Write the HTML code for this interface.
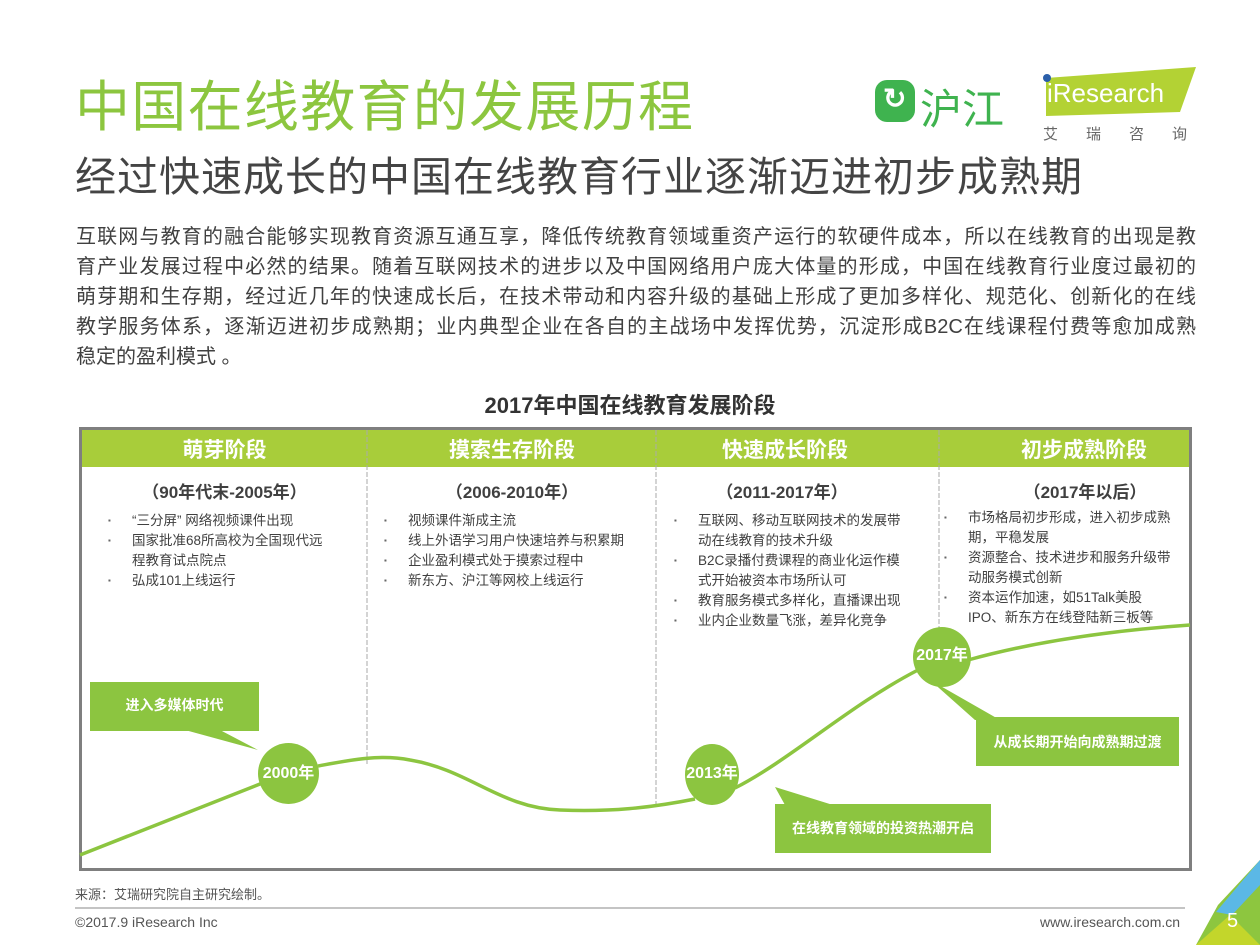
<!DOCTYPE html>
<html><head><meta charset="utf-8"><style>
body{margin:0;width:1260px;height:945px;position:relative;background:#fff;overflow:hidden;font-family:"Liberation Sans","Noto Sans CJK SC",sans-serif;}
.a{position:absolute;white-space:nowrap;}
.p{position:absolute;left:76px;width:1120px;font-size:20px;color:#404040;}
.p div{height:30px;line-height:30px;text-align:justify;text-align-last:justify;white-space:nowrap;}
.hd{position:absolute;top:433px;height:36px;line-height:36px;color:#fff;font-weight:bold;font-size:21px;text-align:center;}
.yr{position:absolute;top:478px;font-weight:bold;font-size:17px;color:#404040;text-align:center;}
ul{position:absolute;margin:0;padding:0;list-style:none;font-size:13.5px;color:#404040;line-height:20px;}
ul li{position:relative;padding-left:27px;}
ul li:before{content:"▪";position:absolute;left:3px;font-size:8px;color:#666;}
.c{position:absolute;color:#fff;font-weight:bold;font-size:14px;text-align:center;background:#8cc540;}
.ci{position:absolute;border-radius:50%;background:#8cc540;color:#fff;font-weight:bold;font-size:16px;text-align:center;}
</style></head><body>
<div class="a" style="left:75px;top:72px;font-size:55px;color:#8cc63f;letter-spacing:1.3px;line-height:70px;">中国在线教育的发展历程</div>
<div class="a" style="left:75px;top:150px;font-size:41px;color:#444;line-height:54px;letter-spacing:1px;">经过快速成长的中国在线教育行业逐渐迈进初步成熟期</div>
<div style="position:absolute;left:875px;top:80px;width:40px;height:42px;background:#3fb34f;border-radius:12px;"></div>
<div class="a" style="left:883px;top:82px;font-size:28px;color:#fff;font-weight:bold;">↻</div>
<div class="a" style="left:920px;top:76px;font-size:42px;color:#3fb34f;">沪江</div>
<svg class="a" style="left:1040px;top:64px" width="160" height="60"><polygon points="6,14 156,3 140,48 6,52" fill="#b3d234"/><circle cx="7" cy="14" r="4" fill="#2b5faa"/></svg>
<div class="a" style="left:1047px;top:78px;font-size:26px;color:#fff;">iResearch</div>
<div class="a" style="left:1043px;top:123px;font-size:15px;color:#666;letter-spacing:28px;">艾瑞咨询</div>
<div class="p" style="top:222px;">
<div>互联网与教育的融合能够实现教育资源互通互享，降低传统教育领域重资产运行的软硬件成本，所以在线教育的出现是教</div>
<div>育产业发展过程中必然的结果。随着互联网技术的进步以及中国网络用户庞大体量的形成，中国在线教育行业度过最初的</div>
<div>萌芽期和生存期，经过近几年的快速成长后，在技术带动和内容升级的基础上形成了更加多样化、规范化、创新化的在线</div>
<div>教学服务体系，逐渐迈进初步成熟期；业内典型企业在各自的主战场中发挥优势，沉淀形成B2C在线课程付费等愈加成熟</div>
<div style="text-align-last:left">稳定的盈利模式 。</div>
</div>
<div class="a" style="left:0;width:1260px;text-align:center;top:388px;font-size:22px;font-weight:bold;color:#333;">2017年中国在线教育发展阶段</div>
<svg class="a" style="left:0;top:0" width="1260" height="945">
<rect x="80.5" y="428.5" width="1110" height="441" fill="none" stroke="#7f7f7f" stroke-width="3"/>
<rect x="82" y="430" width="1107" height="37" fill="#a8cd3a"/>
<g stroke="#aaa" stroke-width="1" stroke-dasharray="5,2">
<line x1="367" y1="430" x2="367" y2="766"/><line x1="656" y1="430" x2="656" y2="805"/><line x1="939" y1="430" x2="939" y2="640"/></g>
<path d="M80,855 L265,782 M318,766 C350,760 380,754 410,760 C470,770 500,808 560,810 C610,812 650,808 695,799 M735,788 C790,760 850,705 918,670 M968,660 C1040,640 1120,630 1190,625" fill="none" stroke="#8cc540" stroke-width="3.5"/>
<polygon points="185,730 220,730 258,750" fill="#8cc540"/>
<polygon points="775,787 833,805 785,805" fill="#8cc540"/>
<polygon points="930,680 975,720 1000,720" fill="#8cc540"/>
<line x1="75" y1="908" x2="1185" y2="908" stroke="#888" stroke-width="1"/>
<polygon points="1260,860 1260,945 1196,945 1218,905" fill="#8dc63f"/>
<polygon points="1260,860 1260,885 1232,915 1216,912" fill="#5bb8e6"/>
<polygon points="1196,945 1230,915 1260,945" fill="#c3d62b"/>
</svg>
<div class="hd" style="left:82px;width:285px;">萌芽阶段</div>
<div class="hd" style="left:368px;width:288px;">摸索生存阶段</div>
<div class="hd" style="left:657px;width:256px;">快速成长阶段</div>
<div class="hd" style="left:940px;width:288px;">初步成熟阶段</div>
<div class="yr" style="left:82px;width:285px;">（90年代末-2005年）</div>
<div class="yr" style="left:368px;width:288px;">（2006-2010年）</div>
<div class="yr" style="left:657px;width:250px;">（2011-2017年）</div>
<div class="yr" style="left:940px;width:290px;">（2017年以后）</div>
<ul style="left:105px;top:511px;width:250px;"><li>“三分屏” 网络视频课件出现</li><li>国家批准68所高校为全国现代远<br>程教育试点院点</li><li>弘成101上线运行</li></ul>
<ul style="left:381px;top:511px;width:270px;"><li>视频课件渐成主流</li><li>线上外语学习用户快速培养与积累期</li><li>企业盈利模式处于摸索过程中</li><li>新东方、沪江等网校上线运行</li></ul>
<ul style="left:671px;top:511px;width:260px;"><li>互联网、移动互联网技术的发展带<br>动在线教育的技术升级</li><li>B2C录播付费课程的商业化运作模<br>式开始被资本市场所认可</li><li>教育服务模式多样化，直播课出现</li><li>业内企业数量飞涨，差异化竞争</li></ul>
<ul style="left:941px;top:508px;width:250px;"><li>市场格局初步形成，进入初步成熟<br>期，平稳发展</li><li>资源整合、技术进步和服务升级带<br>动服务模式创新</li><li>资本运作加速，如51Talk美股<br>IPO、新东方在线登陆新三板等</li></ul>
<div class="c" style="left:90px;top:682px;width:169px;height:49px;line-height:46px;">进入多媒体时代</div>
<div class="c" style="left:775px;top:804px;width:216px;height:49px;line-height:48px;">在线教育领域的投资热潮开启</div>
<div class="c" style="left:976px;top:717px;width:203px;height:49px;line-height:50px;">从成长期开始向成熟期过渡</div>
<div class="ci" style="left:258px;top:743px;width:61px;height:61px;line-height:61px;">2000年</div>
<div class="ci" style="left:685px;top:744px;width:54px;height:61px;line-height:60px;">2013年</div>
<div class="ci" style="left:913px;top:627px;width:58px;height:60px;line-height:58px;">2017年</div>
<div class="a" style="left:75px;top:884px;font-size:13px;color:#555;">来源：艾瑞研究院自主研究绘制。</div>
<div class="a" style="left:75px;top:914px;font-size:14px;color:#555;">©2017.9 iResearch Inc</div>
<div class="a" style="left:1040px;top:914px;font-size:14px;color:#555;">www.iresearch.com.cn</div>
<div class="a" style="left:1227px;top:910px;font-size:20px;color:#fff;">5</div>
</body></html>
